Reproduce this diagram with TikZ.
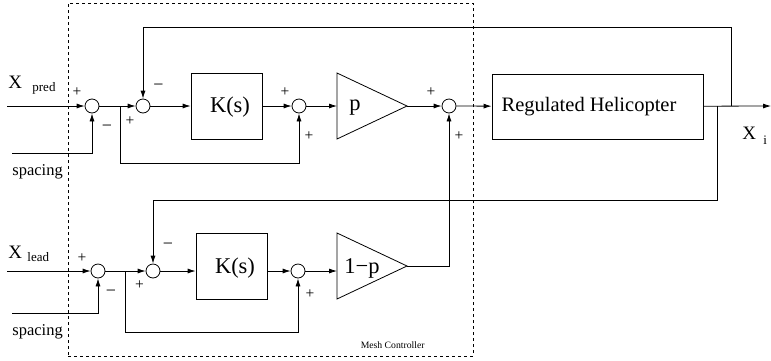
\documentclass[tikz,border=0pt]{standalone}
\usepackage{fontspec}
\setmainfont{Liberation Serif}
\usetikzlibrary{arrows.meta}
\begin{document}
\begin{tikzpicture}[x=1pt,y=-1pt,line width=0.8pt,
  sumj/.style={circle,draw,minimum size=14pt,inner sep=0pt},
  blk/.style={draw,minimum width=71pt,minimum height=66pt,inner sep=0pt},
  sig/.style={-{Latex[length=8pt,width=5pt]}},
  sgn/.style={font=\fontsize{15.5}{15.5}\selectfont,inner sep=0pt},
  sgm/.style={font=\fontsize{18}{18}\selectfont,inner sep=0pt},
  big/.style={font=\fontsize{22.5}{22.5}\selectfont,inner sep=0pt},
  xl/.style={font=\fontsize{19}{19}\selectfont,inner sep=0pt,anchor=base west},
  sub/.style={font=\fontsize{13}{13}\selectfont,inner sep=0pt,anchor=base west},
  spc/.style={font=\fontsize{16.5}{16.5}\selectfont,inner sep=0pt,anchor=base west}]
\useasboundingbox (0,0) rectangle (771,360);

% dashed mesh controller frame
\node[draw,dash pattern=on 3pt off 3pt,minimum width=405pt,minimum height=353pt,inner sep=0pt] (mesh) at (270.5,179.5) {};
\node[font=\fontsize{9.7}{9.7}\selectfont,inner sep=0pt,anchor=base east] (meshl) at (425,348) {Mesh Controller};

% ---------- top row ----------
\node[sumj] (s1) at (92,106) {};
\node[sumj] (s2) at (143,106) {};
\node[blk] (k1) at (226.5,106) {};
\node[big] (k1t) at (230,107) {K(s)};
\node[sumj] (s3) at (299,106) {};
\draw (337,73) -- (407,106) -- (337,139) -- cycle;
\coordinate (p1in) at (337,106);
\coordinate (p1out) at (407,106);
\node[big] (p1t) at (355,108) {p};
\node[sumj] (s4) at (449,106) {};
\node[draw,minimum width=211pt,minimum height=65pt,inner sep=0pt] (heli) at (597.5,106.5) {};
\node[font=\fontsize{20.5}{20.5}\selectfont,inner sep=0pt] (helit) at (589,107) {Regulated Helicopter};
\coordinate (out) at (771,106);

\coordinate (in1) at (7,106);
\coordinate (sp1) at (12,153);
\coordinate (b1) at (120,106);
\coordinate (b1d) at (120,163);
\coordinate (fb1) at (731,106);
\coordinate (fb1t) at (731,27);
\coordinate (fb2) at (717,106);
\coordinate (fb2b) at (717,200);

\draw[sig] (in1) -- (s1);
\draw[sig] (sp1) -| (s1);
\draw[sig] (s1) -- (s2);
\draw[sig] (b1) -- (b1d) -| (s3);
\draw[sig] (s2) -- (k1);
\draw[sig] (k1) -- (s3);
\draw[sig] (s3) -- (p1in);
\draw[sig] (p1out) -- (s4);
\draw[sig] (s4) -- (heli);
\draw[sig] (heli) -- (out);
\draw[sig] (fb1) -- (fb1t) -| (s2);

% ---------- bottom row ----------
\node[sumj] (t1) at (98,271) {};
\node[sumj] (t2) at (153,271) {};
\node[blk] (k2) at (231.5,266) {};
\node[big] (k2t) at (235,268) {K(s)};
\node[sumj] (t3) at (298,271) {};
\draw (337,233) -- (407,266) -- (337,299) -- cycle;
\coordinate (p2in) at (337,271);
\coordinate (p2out) at (407,266);
\node[big] (p2t) at (362,268) {1−p};

\coordinate (in2) at (7,271);
\coordinate (sp2) at (12,313);
\coordinate (b2) at (125,271);
\coordinate (b2d) at (125,332);

\draw[sig] (in2) -- (t1);
\draw[sig] (sp2) -| (t1);
\draw[sig] (t1) -- (t2);
\draw[sig] (b2) -- (b2d) -| (t3);
\draw[sig] (t2) -- (t2 -| k2.west);
\draw[sig] (t3 -| k2.east) -- (t3);
\draw[sig] (t3) -- (p2in);
\draw[sig] (p2out) -| (s4);
\draw[sig] (fb2) -- (fb2b) -| (t2);

% ---------- labels ----------
\node[xl] (xp) at (8,88) {X};
\node[sub] (xps) at (32,91) {pred};
\node[xl] (xld) at (8,258) {X};
\node[sub] (xlds) at (27,261) {lead};
\node[xl] (xi) at (742,139) {X};
\node[sub] (xis) at (763,144) {i};
\node[spc] (spl1) at (12,175) {spacing};
\node[spc] (spl2) at (12,335) {spacing};

% signs
\node[sgn] (g1) at (77,92) {+};
\node[sgm] (g2) at (107,128) {−};
\node[sgm] (g3) at (158.5,87) {−};
\node[sgn] (g4) at (130,121) {+};
\node[sgn] (g5) at (285,92) {+};
\node[sgn] (g6) at (309,136) {+};
\node[sgn] (g7) at (431,92) {+};
\node[sgn] (g8) at (459,136) {+};
\node[sgn] (g9) at (82,258) {+};
\node[sgm] (g10) at (111,293) {−};
\node[sgm] (g11) at (168,246) {−};
\node[sgn] (g12) at (139.5,285) {+};
\node[sgn] (g13) at (310,294) {+};
\end{tikzpicture}
\end{document}
